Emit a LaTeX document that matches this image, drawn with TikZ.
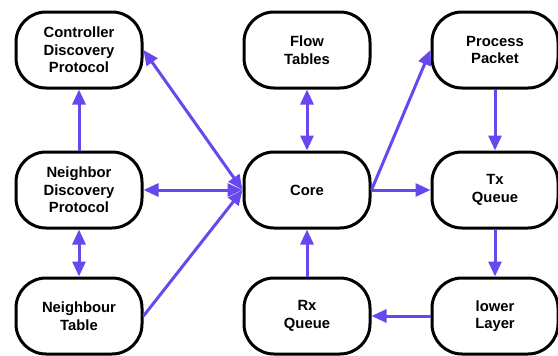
\documentclass[tikz,border=0pt]{standalone}
\usepackage{fontspec}
\setmainfont{Liberation Sans}
\usetikzlibrary{arrows.meta}
\definecolor{arr}{RGB}{104,72,238}
\begin{document}
\begin{tikzpicture}[x=1pt,y=-1pt,
  box/.style={draw=black,line width=3pt,rounded corners=30pt,minimum width=126pt,minimum height=76pt,
    align=center,inner sep=0pt,font=\fontsize{14.8}{17.5}\selectfont\bfseries},
  tip/.tip={Triangle[length=15pt,width=13pt]},
  conn/.style={draw=arr,line width=3pt,-tip},
  bconn/.style={draw=arr,line width=3pt,tip-tip}]
\useasboundingbox (0,0) rectangle (558,356);
\node[box] (cdp) at (79,50) {Controller\\Discovery\\Protocol};
\node[box] (ndp) at (79,190) {Neighbor\\Discovery\\Protocol};
\node[box] (nt) at (79,316) {Neighbour\\Table};
\node[box] (ft) at (307,50) {Flow\\Tables};
\node[box] (core) at (307,190) {Core};
\node[box] (rx) at (307,316) {Rx\\Queue};
\node[box] (pp) at (495,50) {Process\\Packet};
\node[box] (tx) at (495,190) {Tx\\Queue};
\node[box] (ll) at (495,316) {lower\\Layer};
\draw[conn] (ndp.north) -- (cdp.south);
\draw[bconn] (ndp.south) -- (nt.north);
\draw[bconn] (cdp.east) -- (core.west);
\draw[bconn] (ndp.east) -- (core.west);
\draw[conn] (nt.east) -- (core.west);
\draw[bconn] (ft.south) -- (core.north);
\draw[conn] (core.east) -- (pp.west);
\draw[conn] (core.east) -- (tx.west);
\draw[conn] (pp.south) -- (tx.north);
\draw[conn] (tx.south) -- (ll.north);
\draw[conn] (ll.west) -- (rx.east);
\draw[conn] (rx.north) -- (core.south);
\end{tikzpicture}
\end{document}
